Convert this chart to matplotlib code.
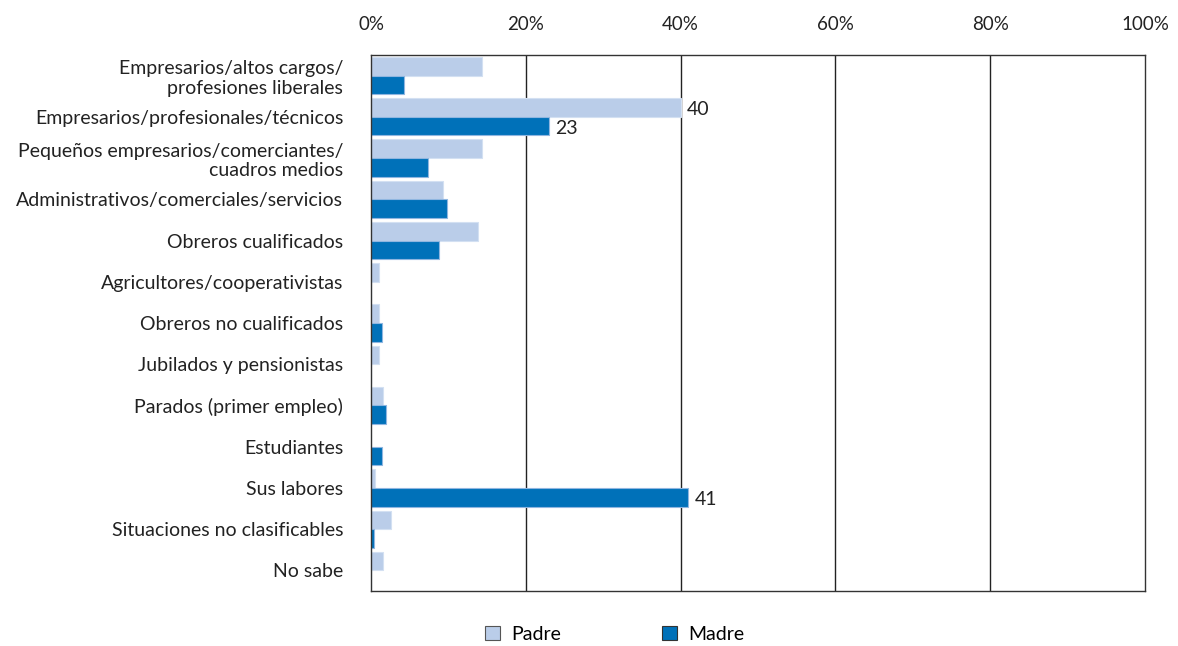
import numpy as np
import matplotlib
matplotlib.use("Agg")
import matplotlib.pyplot as plt
from matplotlib.patches import Patch

plt.rcParams['font.family'] = ['Lato', 'DejaVu Sans']

categories = [
    "Empresarios/altos cargos/\nprofesiones liberales",
    "Empresarios/profesionales/técnicos",
    "Pequeños empresarios/comerciantes/\ncuadros medios",
    "Administrativos/comerciales/servicios",
    "Obreros cualificados",
    "Agricultores/cooperativistas",
    "Obreros no cualificados",
    "Jubilados y pensionistas",
    "Parados (primer empleo)",
    "Estudiantes",
    "Sus labores",
    "Situaciones no clasificables",
    "No sabe",
]
padre = [14.3, 40.0, 14.3, 9.3, 13.8, 1.0, 1.0, 1.0, 1.5, 0.0, 0.5, 2.6, 1.5]
madre = [4.3, 23.0, 7.4, 9.8, 8.8, 0.0, 1.4, 0.0, 1.9, 1.4, 41.0, 0.4, 0.0]
labelled = {("Padre", 1): "40", ("Madre", 1): "23", ("Madre", 10): "41"}

c_padre = "#bacde9"
c_madre = "#0071b9"
fs = 14

fig = plt.figure(figsize=(11.78, 6.46), dpi=100)
ax = fig.add_axes([0.315, 0.085, 0.657, 0.83])

y = np.arange(len(categories))
h = 0.45
ax.barh(y - h / 2, padre, height=h, color=c_padre, edgecolor="#d3e0f2", linewidth=0.8)
ax.barh(y + h / 2, madre, height=h, color=c_madre, edgecolor="#8fb6e0", linewidth=0.8)

for (ser, i), txt in labelled.items():
    vals, off = (padre, -h / 2) if ser == "Padre" else (madre, h / 2)
    ax.text(vals[i] + 0.8, y[i] + off + 0.05, txt, va="center", ha="left",
            fontsize=fs, color="#222222")

ax.set_xlim(0, 100)
ax.set_ylim(len(categories) - 0.5, -0.5)
ax.set_xticks([0, 20, 40, 60, 80, 100])
ax.set_xticklabels(["0%", "20%", "40%", "60%", "80%", "100%"])
ax.xaxis.tick_top()
ax.tick_params(axis="x", length=0, pad=16, labelsize=13.5, colors="#222222")
ax.set_yticks(y)
ax.set_yticklabels(categories, fontsize=fs, color="#222222", ha="right",
                   linespacing=1.2)
ax.tick_params(axis="y", length=0, pad=20)

for xv in [20, 40, 60, 80]:
    ax.axvline(xv, color="#222222", linewidth=1.0, zorder=0)
for s in ax.spines.values():
    s.set_color("#333333")
    s.set_linewidth(1.0)

handles = [Patch(facecolor=c_padre, edgecolor="#555555", linewidth=0.8, label="Padre"),
           Patch(facecolor=c_madre, edgecolor="#333333", linewidth=0.8, label="Madre")]
fig.legend(handles=handles, loc="center", bbox_to_anchor=(0.522, 0.018), ncol=2,
           frameon=False, fontsize=fs, columnspacing=5.2, handlelength=0.75,
           handleheight=0.75, handletextpad=0.6)

fig.savefig("out.png", dpi=100)
